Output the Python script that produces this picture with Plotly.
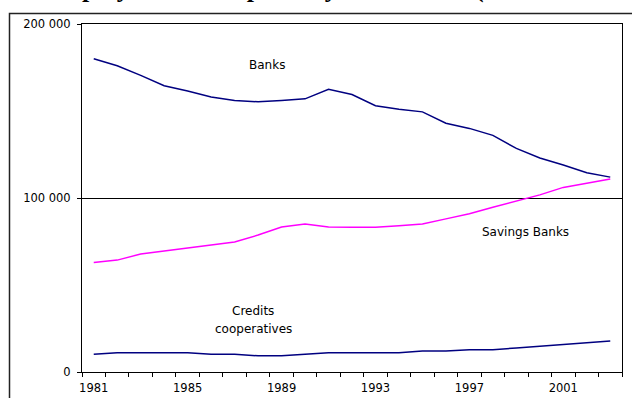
import plotly.graph_objects as go

# Employment by type of depository institution, 1981-2003
years = list(range(1981, 2004))
banks = [180000, 176000, 170500, 164500, 161500, 158000, 156000, 155300,
         156000, 157000, 162500, 159500, 153000, 151000, 149500, 143000,
         140000, 136000, 128500, 123000, 119000, 114500, 112000]
savings_banks = [63000, 64300, 67800, 69500, 71300, 73000, 74700, 78700,
                 83300, 85000, 83300, 83200, 83200, 84100, 85000, 88000,
                 91000, 94700, 98300, 101800, 106100, 108400, 110900]
credit_coops = [10200, 11000, 11000, 11000, 11000, 10200, 10200, 9300,
                9300, 10200, 11000, 11000, 11000, 11000, 12000, 12000,
                12800, 12800, 13800, 14700, 15700, 16700, 17800]

y_ticks = [0, 100000, 200000]
y_tick_labels = ["0", "100 000", "200 000"]
x_label_years = [1981, 1985, 1989, 1993, 1997, 2001]

W, H = 632, 398
L, R, T, B = 82, 10, 24, 26

fig = go.Figure()
fig.add_trace(go.Scatter(x=years, y=banks, mode="lines", name="Banks",
                         line=dict(color="#000080", width=1.5)))
fig.add_trace(go.Scatter(x=years, y=savings_banks, mode="lines", name="Savings Banks",
                         line=dict(color="#FF00FF", width=1.5)))
fig.add_trace(go.Scatter(x=years, y=credit_coops, mode="lines", name="Credits cooperatives",
                         line=dict(color="#000080", width=1.5)))

label_font = dict(family="DejaVu Sans, Verdana, sans-serif", size=12, color="#000000")
tick_font = dict(family="DejaVu Sans, Verdana, sans-serif", size=11.5, color="#000000")

fig.update_layout(
    width=W, height=H,
    margin=dict(l=L, r=R, t=T, b=B, pad=0, autoexpand=False),
    paper_bgcolor="white", plot_bgcolor="white",
    showlegend=False,
    font=label_font,
    xaxis=dict(
        range=[years[0] - 0.5, years[-1] + 0.5],
        tickvals=x_label_years, ticktext=[str(v) for v in x_label_years],
        ticks="", showgrid=False, zeroline=False, automargin=False,
        showline=True, linecolor="#000000", linewidth=1, mirror=True,
        minor=dict(tick0=years[0] - 0.5, dtick=1, ticks="outside",
                   ticklen=4, tickcolor="#000000", showgrid=False),
        tickfont=tick_font, ticklabelstandoff=5,
    ),
    yaxis=dict(
        range=[0, 200000],
        tickvals=y_ticks, ticktext=y_tick_labels,
        ticks="outside", ticklen=4, tickcolor="#000000",
        showgrid=True, gridcolor="#000000", gridwidth=1, zeroline=False,
        showline=True, linecolor="#000000", linewidth=1, mirror=True,
        tickfont=tick_font, ticklabelstandoff=4, automargin=False,
    ),
)

# outer chart frame (extends past the right and bottom edges)
pw, ph = W - L - R, H - T - B
def px_x(p):
    return (p - L) / pw
def px_y(p):
    return (H - B - p) / ph

fig.add_shape(type="rect", xref="paper", yref="paper",
              x0=px_x(9.5), x1=px_x(W + 20), y0=px_y(H + 20), y1=px_y(13.5),
              line=dict(color="#222222", width=1.5), fillcolor="rgba(0,0,0,0)",
              layer="below")

# heading line, mostly above the page top
fig.add_annotation(text="<b>Employment in depository institutions (</b>",
                   xref="paper", yref="paper", x=px_x(41), y=px_y(5),
                   xanchor="left", yanchor="bottom", showarrow=False,
                   font=dict(family="Liberation Serif, Times New Roman, serif",
                             size=26, color="#000000"))

# series labels
series_labels = [
    ("Banks", 1988.4, 176400),
    ("Savings Banks", 1999.4, 80500),
    ("Credits", 1987.8, 35000),
    ("cooperatives", 1987.8, 24700),
]
for txt, xv, yv in series_labels:
    fig.add_annotation(text=txt, x=xv, y=yv, xref="x", yref="y",
                       showarrow=False, font=label_font)

fig.write_html("out.html")
